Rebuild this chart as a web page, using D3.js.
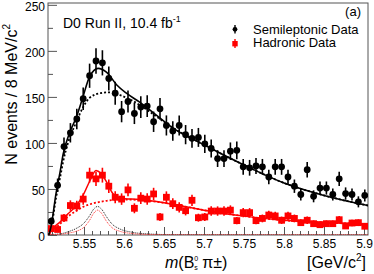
<!DOCTYPE html>
<html>
<head>
<meta charset="utf-8">
<script src="https://cdn.jsdelivr.net/npm/d3@7"></script>
<style>
  body { margin: 0; background: #fff; }
  svg { display: block; font-family: "Liberation Sans", Arial, sans-serif; }
</style>
</head>
<body>
<div id="chart"></div>
<script>
// bin centres, 8 MeV bins
const binCenters = [5.509, 5.517, 5.525, 5.533, 5.541, 5.549, 5.557, 5.565, 5.573, 5.581,
  5.589, 5.597, 5.605, 5.613, 5.621, 5.629, 5.637, 5.645, 5.653, 5.661,
  5.669, 5.677, 5.685, 5.693, 5.701, 5.709, 5.717, 5.725, 5.733, 5.741,
  5.749, 5.757, 5.765, 5.773, 5.781, 5.789, 5.797, 5.805, 5.813, 5.821,
  5.829, 5.837, 5.845, 5.853, 5.861, 5.869, 5.877, 5.885, 5.893, 5.901];

const semileptonic = [15, 54, 96, 111, 126, 148, 173, 189, 187, 170,
  154, 134, 145, 132, 139, 140, 123, 137, 119, 113,
  119, 109, 105, 106, 99, 94, 83, 83, 91, 92,
  74, 73, 75, 74, 63, 74, 74, 63, 53, 44,
  71, 42, 51, 51, 44, 61, 45, 44, 36, 43];

const hadronic = [7, 6, 18.5, 32, 31.5, 39, 65, 61, 65, 53,
  41, 39, 49, 29, 40, 39, 44.6, 19.6, 41, 34,
  30, 26.4, 37.7, 18.8, 19.6, 26, 26, 26, 27, 15.6,
  24.3, 24.3, 15.6, 18, 21.7, 20.7, 16, 20.7, 18, 13.4,
  16, 12.3, 11.2, 12.3, 12.3, 16.6, 9.8, 13, 13.4, 9.5];

// fit curves: [mass, value]
const slTotalFit = [[5.506, 0], [5.509, 10], [5.515, 45], [5.52, 68], [5.524, 88], [5.532, 111],
  [5.54, 127], [5.548, 148], [5.557, 172], [5.5677, 181], [5.578, 177], [5.591, 163],
  [5.603, 154], [5.62, 144], [5.64, 130.5], [5.66, 117], [5.7, 98], [5.75, 76],
  [5.8, 56.5], [5.85, 43], [5.905, 32]];
const slBackground = [[5.506, 0], [5.509, 8], [5.515, 40], [5.52, 62], [5.524, 80], [5.53, 100],
  [5.54, 122], [5.549, 139], [5.557, 149], [5.57, 154], [5.582, 155], [5.595, 152],
  [5.607, 147.5], [5.62, 141], [5.64, 129], [5.66, 117], [5.7, 98], [5.75, 76],
  [5.8, 56.5], [5.85, 43], [5.905, 32]];
const slSignal = [[5.506, 0.5], [5.52, 1.2], [5.53, 3.5], [5.54, 7], [5.55, 13], [5.557, 21],
  [5.562, 28], [5.567, 31], [5.572, 28], [5.578, 20], [5.585, 12], [5.595, 6.5],
  [5.61, 3], [5.63, 1.2], [5.66, 0.4], [5.905, 0.1]];

const hadTotalFit = [[5.506, 0], [5.51, 6], [5.52, 14], [5.53, 23], [5.541, 32.6], [5.549, 43.5],
  [5.558, 60], [5.565, 70], [5.571, 67], [5.578, 58], [5.586, 45], [5.595, 40],
  [5.62, 38.5], [5.65, 35], [5.7, 27], [5.75, 20.5], [5.8, 16], [5.85, 13.5], [5.905, 12]];
const hadBackground = [[5.506, 0], [5.51, 4], [5.52, 12], [5.53, 20], [5.54, 26], [5.55, 31],
  [5.56, 34], [5.57, 36], [5.58, 37.5], [5.6, 38.5], [5.62, 38], [5.65, 35],
  [5.7, 27], [5.75, 20.5], [5.8, 16], [5.85, 13.5], [5.905, 12]];
const hadSignal = [[5.506, 0.3], [5.52, 0.8], [5.53, 2], [5.54, 4], [5.55, 8.5], [5.557, 16],
  [5.562, 23.5], [5.567, 27], [5.572, 23.5], [5.578, 15], [5.585, 8], [5.595, 4],
  [5.61, 1.6], [5.63, 0.6], [5.66, 0.3], [5.905, 0.2]];

const xTicks = [5.55, 5.6, 5.65, 5.7, 5.75, 5.8, 5.85, 5.9];
const xMinorTicks = [5.51, 5.52, 5.53, 5.54, 5.56, 5.57, 5.58, 5.59, 5.61, 5.62, 5.63, 5.64,
  5.66, 5.67, 5.68, 5.69, 5.71, 5.72, 5.73, 5.74, 5.76, 5.77, 5.78, 5.79,
  5.81, 5.82, 5.83, 5.84, 5.86, 5.87, 5.88, 5.89];
const yTicks = [0, 50, 100, 150, 200, 250];
const yMinorTicks = [25, 75, 125, 175, 225];

const W = 374, H = 274;
const plotL = 48, plotR = 368, plotT = 3, plotB = 235;

const svg = d3.select("#chart").append("svg")
  .attr("width", W)
  .attr("height", H);

const x = d3.scaleLinear().domain([5.505, 5.905]).range([plotL, plotR]);
const y = d3.scaleLinear().domain([0, 252]).range([plotB, plotT]);

svg.append("defs").append("clipPath").attr("id", "plotclip")
  .append("rect")
  .attr("x", plotL).attr("y", plotT)
  .attr("width", plotR - plotL).attr("height", plotB - plotT);

const frameColor = "#555";

// axes
const xMinor = svg.append("g")
  .attr("transform", `translate(0,${plotB})`)
  .call(d3.axisBottom(x).tickValues(xMinorTicks).tickSize(-4).tickFormat(""));
xMinor.select(".domain").remove();

const xAxis = svg.append("g")
  .attr("transform", `translate(0,${plotB})`)
  .call(d3.axisBottom(x).tickValues(xTicks).tickSize(-8).tickPadding(4).tickFormat(d => String(d)));
xAxis.select(".domain").remove();

const yMinor = svg.append("g")
  .attr("transform", `translate(${plotL},0)`)
  .call(d3.axisLeft(y).tickValues(yMinorTicks).tickSize(-5).tickFormat(""));
yMinor.select(".domain").remove();

const yAxis = svg.append("g")
  .attr("transform", `translate(${plotL},0)`)
  .call(d3.axisLeft(y).tickValues(yTicks).tickSize(-9).tickPadding(3));
yAxis.select(".domain").remove();
yAxis.selectAll(".tick text").attr("dy", "0.45em");

svg.selectAll(".tick line").attr("stroke", frameColor);
svg.selectAll(".tick text").attr("font-size", 12).attr("fill", "#000")
  .attr("font-family", "Liberation Sans, Arial, sans-serif");

svg.append("rect")
  .attr("x", plotL).attr("y", plotT)
  .attr("width", plotR - plotL).attr("height", plotB - plotT)
  .attr("fill", "none").attr("stroke", frameColor).attr("stroke-width", 1);

const plot = svg.append("g").attr("clip-path", "url(#plotclip)");

const line = d3.line()
  .x(d => x(d[0]))
  .y(d => y(d[1]))
  .curve(d3.curveMonotoneX);

function drawCurve(data, color, width, dash) {
  plot.append("path")
    .datum(data)
    .attr("d", line)
    .attr("fill", "none")
    .attr("stroke", color)
    .attr("stroke-width", width)
    .attr("stroke-dasharray", dash);
}

// signal components (fine dotted)
drawCurve(slSignal, "#222", 1, "1,1");
drawCurve(hadSignal, "#ff3030", 1, "1,1");

// background components (coarse dotted)
drawCurve(hadBackground, "#ff0000", 1.8, "2,2");
drawCurve(slBackground, "#000", 1.8, "2,2");

// hadronic data
const hadPts = binCenters.map((m, i) => ({ m, v: hadronic[i] }));
plot.selectAll(".had-err")
  .data(hadPts).enter().append("line")
  .attr("x1", d => x(d.m)).attr("x2", d => x(d.m))
  .attr("y1", d => y(d.v + Math.sqrt(d.v)))
  .attr("y2", d => y(d.v - Math.sqrt(d.v)))
  .attr("stroke", "#ff0000").attr("stroke-width", 1.6);
plot.selectAll(".had-pt")
  .data(hadPts).enter().append("rect")
  .attr("x", d => x(d.m) - 3.4).attr("y", d => y(d.v) - 3.4)
  .attr("width", 6.8).attr("height", 6.8)
  .attr("fill", "#ff0000");

drawCurve(hadTotalFit, "#ff0000", 1.5, null);

// semileptonic data
const slPts = binCenters.map((m, i) => ({ m, v: semileptonic[i] }));
plot.selectAll(".sl-err")
  .data(slPts).enter().append("line")
  .attr("x1", d => x(d.m)).attr("x2", d => x(d.m))
  .attr("y1", d => y(d.v + Math.sqrt(d.v)))
  .attr("y2", d => y(d.v - Math.sqrt(d.v)))
  .attr("stroke", "#000").attr("stroke-width", 1.6);
plot.selectAll(".sl-pt")
  .data(slPts).enter().append("circle")
  .attr("cx", d => x(d.m)).attr("cy", d => y(d.v))
  .attr("r", 3.4)
  .attr("fill", "#000");

drawCurve(slTotalFit, "#000", 1.6, null);

// title text
const title = svg.append("text")
  .attr("x", 63).attr("y", 28)
  .attr("font-size", 14).attr("fill", "#000");
title.append("tspan").text("D0 Run II, 10.4 fb");
title.append("tspan").attr("font-size", 9).attr("dy", -6).text("-1");

svg.append("text")
  .attr("x", 361).attr("y", 16)
  .attr("text-anchor", "end")
  .attr("font-size", 13)
  .text("(a)");

// legend
const legend = svg.append("g");
legend.append("line")
  .attr("x1", 235).attr("x2", 235).attr("y1", 25).attr("y2", 33.5)
  .attr("stroke", "#000").attr("stroke-width", 1.4);
legend.append("circle").attr("cx", 235).attr("cy", 29.3).attr("r", 2.4).attr("fill", "#000");
legend.append("text").attr("x", 253).attr("y", 33.5).attr("font-size", 13).text("Semileptonic Data");

legend.append("line")
  .attr("x1", 235).attr("x2", 235).attr("y1", 39).attr("y2", 48)
  .attr("stroke", "#ff0000").attr("stroke-width", 1.4);
legend.append("rect").attr("x", 232.3).attr("y", 41).attr("width", 5.4).attr("height", 5.4).attr("fill", "#ff0000");
legend.append("text").attr("x", 253).attr("y", 47).attr("font-size", 13).text("Hadronic Data");

// x axis title
const xt = svg.append("text")
  .attr("x", 165).attr("y", 268)
  .attr("font-size", 16).attr("fill", "#000");
xt.append("tspan").attr("font-style", "italic").text("m");
xt.append("tspan").text("(B");
xt.append("tspan").attr("font-size", 7).attr("dy", -7).text("0");
xt.append("tspan").attr("font-size", 7).attr("dx", -4).attr("dy", 9).text("s");
xt.append("tspan").attr("dy", -2).text(" π±)");

const unit = svg.append("text")
  .attr("x", 366).attr("y", 268)
  .attr("text-anchor", "end")
  .attr("font-size", 16);
unit.append("tspan").text("[GeV/c");
unit.append("tspan").attr("font-size", 10).attr("dy", -7).text("2");
unit.append("tspan").attr("dy", 7).text("]");

// y axis title
const yt = svg.append("text")
  .attr("transform", "translate(17,24) rotate(-90)")
  .attr("text-anchor", "end")
  .attr("font-size", 16);
yt.append("tspan").text("N events / 8 MeV/c");
yt.append("tspan").attr("font-size", 10).attr("dy", -7).text("2");
</script>
</body>
</html>
